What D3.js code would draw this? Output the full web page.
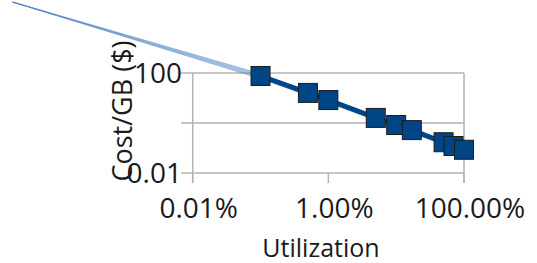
<!DOCTYPE html>
<html><head><meta charset="utf-8">
<script src="https://cdn.jsdelivr.net/npm/d3@7"></script>
<style>html,body{margin:0;padding:0;background:#fff;overflow:hidden}svg{display:block}</style>
</head><body>
<script>
// Data
const utilization = [0.001, 0.005, 0.01, 0.05, 0.1, 0.17, 0.5, 0.7, 1.0];
const costPerGB   = [76, 16, 8.3, 1.6, 0.83, 0.52, 0.17, 0.12, 0.085];
const trendUtil = [2.2e-7, 0.001, 1];
const trendCost1 = [69000, 92, 0.088];
const trendCost2 = [69000, 80, 0.082];
const trendCost3 = [69000, 70, 0.077];
const trendCost4 = [69000, 60, 0.072];
const xTicks = [1e-4, 1e-2, 1];
const xTickLabels = ["0.01%", "1.00%", "100.00%"];
const yTicks = [0.01, 1, 100];
const yTickLabels = ["0.01", "", "100"];

const W = 537, H = 263;
const svg = d3.select("body").append("svg").attr("width", W).attr("height", H);
const x = d3.scaleLog().domain([1e-4, 1]).range([192.7, 464]);
const y = d3.scaleLog().domain([0.01, 100]).range([173, 73]);
const font = "'Open Sans', 'Noto Sans', sans-serif";
const grid = "#b3b3b3";

// horizontal gridlines + y ticks
svg.append("g").selectAll("line").data(yTicks).join("line")
  .attr("x1", 181).attr("x2", 464)
  .attr("y1", d => y(d)).attr("y2", d => y(d))
  .attr("stroke", grid).attr("stroke-width", 1.5);
// left axis and right border
svg.append("line").attr("x1", x(1e-4)).attr("x2", x(1e-4)).attr("y1", y(100)).attr("y2", 183)
  .attr("stroke", grid).attr("stroke-width", 1.5);
svg.append("line").attr("x1", x(1)).attr("x2", x(1)).attr("y1", y(100)).attr("y2", 183)
  .attr("stroke", grid).attr("stroke-width", 1.5);
svg.append("g").selectAll("line").data(xTicks).join("line")
  .attr("x1", d => x(d)).attr("x2", d => x(d)).attr("y1", y(0.01)).attr("y2", 183)
  .attr("stroke", grid).attr("stroke-width", 1.5);

// tick labels
svg.append("g").selectAll("text").data(xTicks).join("text")
  .attr("x", d => x(d) + 6).attr("y", 218).attr("text-anchor", "middle")
  .attr("font-family", font).attr("font-size", 28).attr("fill", "#1a1a1a")
  .text((d, i) => xTickLabels[i]);
svg.append("g").selectAll("text").data(yTicks).join("text")
  .attr("x", 182).attr("y", d => y(d)).attr("dy", "0.36em").attr("text-anchor", "end")
  .attr("font-family", font).attr("font-size", 28).attr("fill", "#1a1a1a")
  .text((d, i) => yTickLabels[i]);

// axis titles
svg.append("text").attr("x", 321).attr("y", 257).attr("text-anchor", "middle")
  .attr("font-family", font).attr("font-size", 25).attr("fill", "#1a1a1a").text("Utilization");
svg.append("text").attr("transform", "translate(132,111) rotate(-90)").attr("text-anchor", "middle")
  .attr("font-family", font).attr("font-size", 27).attr("fill", "#1a1a1a").text("Cost/GB ($)");

// thin trend lines
const line = d3.line().x(d => x(d[0])).y(d => y(d[1]));
[trendCost1, trendCost2, trendCost3, trendCost4].forEach(tc => {
  svg.append("path").datum(trendUtil.map((u, i) => [u, tc[i]]))
    .attr("d", line).attr("fill", "none")
    .attr("stroke", "#4f84c2").attr("stroke-opacity", 0.6).attr("stroke-width", 1.2);
});

// main series
const pts = utilization.map((u, i) => [u, costPerGB[i]]);
svg.append("path").datum(pts).attr("d", line).attr("fill", "none")
  .attr("stroke", "#004586").attr("stroke-width", 5);
svg.append("g").selectAll("rect").data(pts).join("rect")
  .attr("x", d => x(d[0]) - 9.5).attr("y", d => y(d[1]) - 9.5)
  .attr("width", 19).attr("height", 19)
  .attr("fill", "#004586").attr("stroke", "#1c1c1c").attr("stroke-width", 1);
</script>
</body></html>
